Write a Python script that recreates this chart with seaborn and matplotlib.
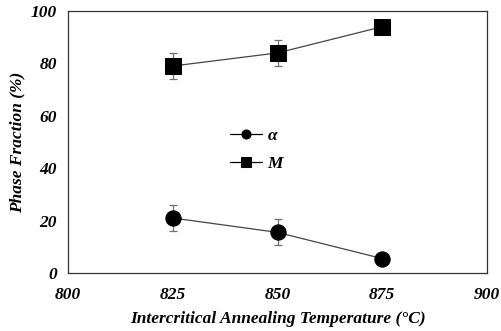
import matplotlib
matplotlib.use("Agg")
import matplotlib.pyplot as plt
import seaborn as sns
import pandas as pd

temperatures = [825, 850, 875]
alpha_frac = [21, 15.5, 5.5]
alpha_err = [5, 5, 0]
mart_frac = [79, 84, 94]
mart_err = [5, 5, 0]
phase_names = ["α", "M"]
x_ticks = [800, 825, 850, 875, 900]
y_ticks = [0, 20, 40, 60, 80, 100]

sns.set_theme(style="white")
plt.rcParams["font.family"] = ["Liberation Serif", "DejaVu Serif"]
plt.rcParams["text.color"] = "black"
plt.rcParams["axes.labelcolor"] = "black"
plt.rcParams["xtick.color"] = "black"
plt.rcParams["ytick.color"] = "black"

df = pd.DataFrame({
    "T": temperatures * 2,
    "frac": alpha_frac + mart_frac,
    "phase": [phase_names[0]] * 3 + [phase_names[1]] * 3,
})

fig = plt.figure(figsize=(5.02, 3.31), dpi=100)
ax = fig.add_axes([68 / 502, 1 - 273 / 331, 419 / 502, 262 / 331])

for vals, errs in ((alpha_frac, alpha_err), (mart_frac, mart_err)):
    ax.errorbar(temperatures, vals, yerr=errs, fmt="none", ecolor="#707070",
                elinewidth=0.9, capsize=2.6, capthick=0.9, zorder=1)

sns.lineplot(data=df, x="T", y="frac", style="phase", markers={"α": "o", "M": "s"},
             dashes=False, color="#444444", linewidth=0.9, markersize=12,
             markerfacecolor="black", markeredgecolor="black", ax=ax, zorder=3)
for ln in ax.lines:
    if ln.get_marker() == "o":
        ln.set_markersize(11)
    elif ln.get_marker() == "s":
        ln.set_markersize(12)

ax.set_xlim(800, 900)
ax.set_ylim(0, 100)
ax.set_xticks(x_ticks)
ax.set_yticks(y_ticks)
tick_font = dict(fontsize=12.5, fontweight="bold", fontstyle="italic")
ax.set_xticklabels([str(v) for v in x_ticks], **tick_font)
ax.set_yticklabels([str(v) for v in y_ticks], **tick_font)
ax.tick_params(axis="x", length=0, pad=10)
ax.tick_params(axis="y", length=0, pad=8)
for s in ax.spines.values():
    s.set_color("#333333")
    s.set_linewidth(0.9)
    s.set_visible(True)

ax.set_xlabel("Intercritical Annealing Temperature (°C)", fontsize=12.5,
              fontweight="bold", fontstyle="italic", labelpad=5.5)
ax.set_ylabel("Phase Fraction (%)", fontsize=12.5, fontweight="bold",
              fontstyle="italic", labelpad=4)

handles, labels = ax.get_legend_handles_labels()
for h in handles:
    h.set_markersize(6.5)
    h.set_color("black")
ax.legend(handles, labels, loc="upper left", bbox_to_anchor=(0.387, 0.555),
          frameon=False, borderpad=0, borderaxespad=0, handlelength=1.85,
          labelspacing=0.68, handletextpad=0.3,
          prop=dict(family="Liberation Serif", size=12.5, style="italic", weight="bold"))

fig.savefig("out.png", dpi=100)
